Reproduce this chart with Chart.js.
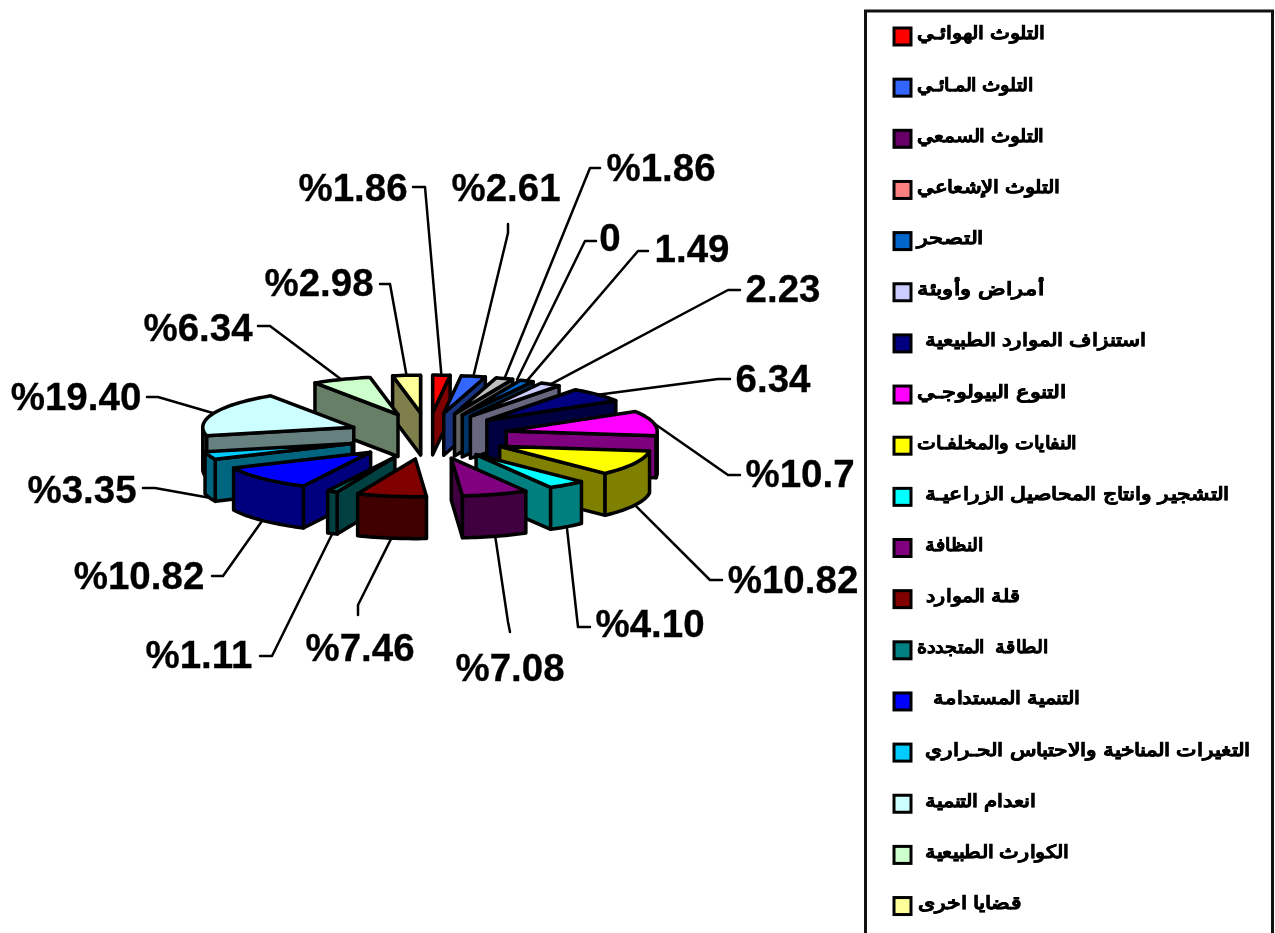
<!DOCTYPE html>
<html lang="ar">
<head>
<meta charset="utf-8">
<style>html,body{margin:0;padding:0;background:#fff;overflow:hidden}canvas{display:block}</style>
<script src="https://cdn.jsdelivr.net/npm/chart.js@4/dist/chart.umd.js"></script>
</head>
<body>
<canvas id="c" width="1275" height="933"></canvas>
<script>
// ---- data ----
const categories = ["التلوث الهوائـي","التلوث المـائـي","التلوث السمعي","التلوث الإشعاعي","التصحر","أمراض وأوبئة","استنزاف الموارد الطبيعية","التنوع البيولوجـي","النفايات والمخلفـات","التشجير وانتاج المحاصيل الزراعيـة","النظافة","قلة الموارد","الطاقة  المتجددة","التنمية المستدامة","التغيرات المناخية والاحتباس الحـراري","انعدام التنمية","الكوارث الطبيعية","قضايا اخرى"];
const values = [1.86,2.61,1.86,0,1.49,2.23,6.34,10.7,10.82,4.10,7.08,7.46,1.11,10.82,3.35,19.40,6.34,2.98];
const labelTexts = ["%1.86","%2.61","%1.86","0","1.49","2.23","6.34","%10.7","%10.82","%4.10","%7.08","%7.46","%1.11","%10.82","%3.35","%19.40","%6.34","%2.98"];
// ---- styles ----
const sliceColors = ["#FF0000","#3366FF","#C0C0C0","#FF8080","#0066CC","#CCCCFF","#000080","#FF00FF","#FFFF00","#00FFFF","#800080","#800000","#008080","#0000FF","#00CCFF","#CCFFFF","#CCFFCC","#FFFF99"];
const swatchColors = ["#FF0000","#3366FF","#660066","#FF8080","#0066CC","#CCCCFF","#000080","#FF00FF","#FFFF00","#00FFFF","#800080","#800000","#008080","#0000FF","#00CCFF","#CCFFFF","#CCFFCC","#FFFF99"];
// ---- layout ----
const labelCenters = [[353,190],[506,190],[661,170],[610,240],[692,251],[783,291],[773,381],[800,476],[793,582],[650,626],[510,670],[360,650],[199,657],[139,578],[82,492],[76,399],[198,330],[319,285]];
const leaderElbows = [[[413,187],[425,187]],[[508,224],[508,233]],[[600,168],[590,168]],[[596,241],[585,241]],[[648,251],[638,251]],[[740,290],[728,290]],[[730,379],[718,379]],[[740,475],[728,475]],[[722,580],[710,580]],[[590,627],[578,627]],[[510,632],[508,622]],[[358,615],[358,605]],[[260,656],[272,656]],[[212,576],[223,576]],[[143,488],[155,488]],[[147,397],[158,397]],[[258,326],[270,326]],[[380,284],[390,284]]];
const legendTextLeft = [917,917,917,917,917,917,925,917,917,925,925,926,917,933,925,925,925,918];
const legendTextWidth = [128,116,127,143,66,127,221,149,160,304,58,94,131,147,325,111,144,104];
const RADIUS = 151, EXPLODE = 80, RADIAL_K = 0.25, EXPLODE_K = 0.29, DEPTH = 42;

function darker(hex){
  const n = parseInt(hex.slice(1),16);
  return `rgb(${(n>>16&255)>>1},${(n>>8&255)>>1},${(n&255)>>1})`;
}
function geometry(arc, i){
  const p = arc.getProps(['x','y','startAngle','endAngle','outerRadius'], true);
  const mid = (p.startAngle + p.endAngle)/2, off = arc.options.offset;
  const ax = p.x + Math.cos(mid)*off, ay = p.y + Math.sin(mid)*off*EXPLODE_K;
  const pt = a => [ax + Math.cos(a)*p.outerRadius, ay + Math.sin(a)*p.outerRadius*RADIAL_K];
  return {ax, ay, s:p.startAngle, e:p.endAngle, mid, pt, i};
}
function poly(ctx, pts, fill){
  ctx.beginPath();
  pts.forEach((q,k)=> k ? ctx.lineTo(q[0],q[1]) : ctx.moveTo(q[0],q[1]));
  ctx.closePath();
  ctx.fillStyle = fill; ctx.fill(); ctx.stroke();
}
function arcPts(g, a, b){
  const n = Math.max(2, Math.ceil((b-a)/0.03)), out = [];
  for(let k=0;k<=n;k++) out.push(g.pt(a+(b-a)*k/n));
  return out;
}
function drawSlice(ctx, g, color){
  if(g.e - g.s < 1e-6) return;
  const wall = darker(color), down = q => [q[0], q[1]+DEPTH];
  const radial = a => { const o = g.pt(a), A=[g.ax,g.ay]; poly(ctx,[A,o,down(o),down(A)],wall); };
  if(Math.cos(g.e) > 0) radial(g.e);
  if(Math.cos(g.s) < 0) radial(g.s);
  // outer wall: parts of the rim facing the viewer (sin > 0)
  for(let t=-2;t<=2;t++){
    const lo = Math.max(g.s, t*2*Math.PI), hi = Math.min(g.e, t*2*Math.PI+Math.PI);
    if(hi > lo){ const r = arcPts(g,lo,hi); poly(ctx, r.concat(r.slice().reverse().map(down)), wall); }
  }
  poly(ctx, [[g.ax,g.ay]].concat(arcPts(g,g.s,g.e)), color);
}
const pie3d = {
  id:'pie3d',
  beforeDatasetDraw(chart, args){
    const ctx = chart.ctx, geo = args.meta.data.map(geometry);
    ctx.save();
    ctx.lineJoin='round'; ctx.lineCap='round'; ctx.strokeStyle='#000';
    // leader lines
    ctx.lineWidth=2.5;
    geo.forEach((g,i)=>{
      const end = g.pt(g.mid); if(Math.sin(g.mid)>0.3) end[1]+=DEPTH;
      const el = leaderElbows[i];
      ctx.beginPath(); ctx.moveTo(el[0][0],el[0][1]); ctx.lineTo(el[1][0],el[1][1]); ctx.lineTo(end[0],end[1]); ctx.stroke();
    });
    // slices back to front
    ctx.lineWidth=3.5;
    geo.slice().sort((a,b)=>Math.sin(a.mid)-Math.sin(b.mid)).forEach(g=>drawSlice(ctx,g,sliceColors[g.i]));
    ctx.restore();
    return false;
  },
  afterDraw(chart){
    const ctx = chart.ctx;
    ctx.save();
    // data labels
    ctx.fillStyle='#000'; ctx.strokeStyle='#000'; ctx.lineWidth=0.3; ctx.textAlign='center'; ctx.textBaseline='middle';
    ctx.font='bold 38.5px "Liberation Sans", Arial, sans-serif';
    labelTexts.forEach((t,i)=>{ctx.fillText(t,labelCenters[i][0],labelCenters[i][1]);ctx.strokeText(t,labelCenters[i][0],labelCenters[i][1]);});
    // legend frame
    ctx.strokeStyle='#111'; ctx.lineWidth=3;
    ctx.strokeRect(865.5,11,407,940);
    // legend rows
    categories.forEach((t,i)=>{
      const y = 36.5 + i*51.15;
      ctx.fillStyle=swatchColors[i]; ctx.strokeStyle='#000'; ctx.lineWidth=3;
      ctx.fillRect(894,y-8.5,17,17); ctx.strokeRect(894,y-8.5,17,17);
      ctx.fillStyle='#000'; ctx.direction='rtl'; ctx.textAlign='center'; ctx.textBaseline='middle';
      ctx.font='bold 18px "Liberation Sans", Arial, sans-serif';
      const w = ctx.measureText(t).width, cx = legendTextLeft[i]+legendTextWidth[i]/2;
      ctx.save(); ctx.translate(cx,y-2); ctx.scale(legendTextWidth[i]/w,1); ctx.fillText(t,0,0);
      ctx.lineWidth=0.5; ctx.strokeText(t,0,0); ctx.restore();
    });
    ctx.restore();
  }
};
new Chart(document.getElementById('c'),{
  type:'pie',
  data:{labels:categories,datasets:[{data:values,backgroundColor:sliceColors,offset:EXPLODE,borderWidth:0}]},
  options:{
    responsive:false,animation:false,devicePixelRatio:1,radius:RADIUS,
    layout:{padding:{left:0,right:419,top:0,bottom:61}},
    plugins:{legend:{display:false},tooltip:{enabled:false}}
  },
  plugins:[pie3d]
});
</script>
</body>
</html>
